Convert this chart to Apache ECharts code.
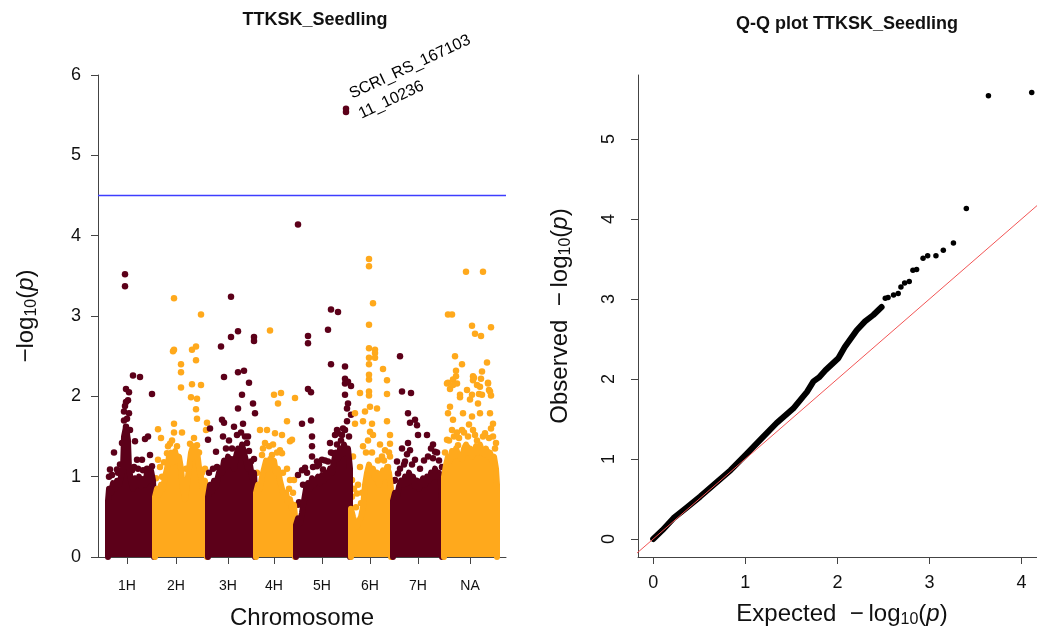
<!DOCTYPE html>
<html>
<head>
<meta charset="utf-8">
<title>TTKSK_Seedling</title>
<script src="https://cdn.jsdelivr.net/npm/echarts@6.0.0/dist/echarts.min.js"></script>
<style>
  html, body { margin: 0; padding: 0; background: #fff; }
  #container { width: 1037px; height: 634px; }
</style>
</head>
<body>
<div id="container"></div>
<script>
// chromosome layout on the cumulative position axis
const chromNames = ['1H', '2H', '3H', '4H', '5H', '6H', '7H', 'NA'];
const chromTicks = [29, 78, 130, 176, 224, 272, 320, 372];

// top edge of the dense block of markers, per chromosome [position, -log10(p)]
const core_1H = [[10,0],[10,0.7],[11,0.85],[13,0.8],[15,0.92],[17,0.85],[19,0.95],[21,0.9],[23,1.0],[25,1.1],[26,1.5],[28,1.62],[30,1.45],[31,1.1],[33,0.95],[35,0.85],[37,0.98],[39,0.9],[41,1.0],[43,0.88],[45,0.97],[47,0.9],[49,1.05],[51,0.95],[53,1.08],[55,0.95],[56,0.7],[56,0]];
const core_2H = [[57,0],[57,0.75],[59,0.85],[61,0.78],[63,0.9],[65,0.85],[67,1.0],[69,1.1],[71,1.25],[73,1.3],[75,1.18],[77,1.32],[79,1.2],[81,1.25],[83,1.1],[85,0.85],[87,0.72],[89,0.9],[91,1.1],[93,1.3],[95,1.38],[97,1.25],[99,1.32],[101,1.12],[103,1.0],[105,0.85],[107,0.95],[108,0.8],[109,0.6],[109,0]];
const core_3H = [[110,0],[110,0.75],[112,0.9],[114,0.82],[116,0.95],[118,0.88],[120,1.0],[122,1.1],[124,1.05],[126,1.2],[128,1.12],[130,1.25],[132,1.15],[134,1.22],[136,1.1],[138,1.25],[140,1.35],[142,1.28],[144,1.4],[146,1.3],[148,1.2],[150,1.1],[152,1.15],[154,1.0],[156,1.05],[157,0.8],[157,0]];
const core_4H = [[158,0],[158,0.8],[160,0.9],[162,0.85],[164,1.0],[166,1.1],[168,1.2],[170,1.1],[172,1.22],[174,1.15],[176,1.2],[178,1.05],[180,1.1],[182,0.95],[184,0.85],[186,0.75],[188,0.8],[190,0.68],[192,0.72],[194,0.6],[196,0.65],[197,0.5],[197,0]];
const core_5H = [[198,0],[198,0.4],[200,0.48],[202,0.42],[204,0.55],[206,0.7],[208,0.85],[210,0.92],[212,0.85],[214,0.98],[216,0.9],[218,0.95],[220,1.0],[222,0.92],[224,1.02],[226,0.95],[228,1.05],[230,1.0],[232,1.1],[234,1.05],[236,1.2],[238,1.3],[240,1.22],[242,1.35],[244,1.28],[246,1.4],[248,1.3],[250,1.35],[252,1.1],[252,0]];
const core_6H = [[253,0],[253,0.6],[255,0.5],[257,0.42],[259,0.38],[261,0.45],[263,0.5],[265,0.62],[267,0.9],[269,1.05],[271,1.15],[273,1.05],[275,1.1],[277,0.98],[279,1.05],[281,0.9],[283,1.0],[285,1.08],[287,1.0],[289,1.12],[291,1.05],[293,0.85],[293,0]];
const core_7H = [[295,0],[295,0.7],[297,0.8],[299,0.75],[301,0.88],[303,0.95],[305,0.9],[307,1.0],[309,0.92],[311,1.05],[313,0.95],[315,1.0],[317,0.88],[319,0.95],[321,0.85],[323,0.92],[325,0.98],[327,0.9],[329,1.0],[331,0.95],[333,1.05],[335,1.0],[337,1.1],[339,1.0],[341,1.05],[343,0.9],[344,0.7],[344,0]];
const core_NA = [[346,0],[346,1.0],[348,1.15],[350,1.25],[352,1.2],[354,1.32],[356,1.25],[358,1.35],[360,1.28],[362,1.3],[364,1.22],[366,1.35],[368,1.4],[370,1.3],[372,1.35],[374,1.25],[376,1.3],[378,1.38],[380,1.3],[382,1.4],[384,1.32],[386,1.28],[388,1.35],[390,1.25],[392,1.3],[394,1.2],[396,1.25],[398,1.1],[399,0.9],[399,0]];

// markers standing out above the dense block
const hits_1H = [[27,3.52],[27,3.37],[35,2.26],[42,2.24],[28,2.09],[31,2.05],[54,2.03],[28,1.93],[26,1.81],[31,1.79],[28,1.62],[32,1.58],[37,1.44],[47,1.47],[50,1.50],[16,1.30],[12,1.09],[19,1.09],[44,1.21],[52,1.27],[54,1.13],[49,1.10],[39,1.21],[24,1.42],[29,1.33],
    [11,1.0],[14,1.02],[20,1.05],[22,1.15],[34,1.08],[36,1.12],[40,1.1],[45,1.08],[26,1.7],[29,1.72],[27,1.88],[30,1.95]];
const hits_2H = [[76,3.22],[103,3.02],[76,2.58],[75,2.56],[94,2.58],[98,2.62],[98,2.45],[83,2.40],[83,2.30],[83,2.11],[94,2.15],[103,2.14],[93,1.99],[99,1.97],[60,1.59],[63,1.48],[76,1.66],[76,1.55],[84,1.55],[72,1.41],[69,1.29],[60,1.21],[62,1.12],[92,1.41],[99,1.39],[109,1.67],[108,1.58],[98,1.84],[99,1.72],
    [58,0.98],[64,1.0],[66,1.18],[70,1.38],[74,1.45],[79,1.38],[86,0.95],[88,1.1],[96,1.48],[101,1.3],[104,1.05],[107,1.1]];
const hits_3H = [[133,3.24],[140,2.81],[133,2.74],[156,2.74],[156,2.69],[123,2.62],[126,2.24],[140,2.30],[146,2.32],[151,2.17],[144,2.02],[112,1.60],[110,1.46],[124,1.71],[126,1.67],[125,1.50],[136,1.62],[140,1.85],[139,1.52],[145,1.66],[150,1.50],[149,1.42],[155,1.91],[157,1.79],[134,1.35],[153,1.19],[118,1.31],
    [111,1.05],[115,1.1],[119,1.12],[128,1.35],[131,1.45],[143,1.55],[147,1.5],[151,1.32],[156,1.22]];
const hits_4H = [[172,2.82],[176,2.02],[183,2.04],[197,1.98],[162,1.58],[164,1.27],[169,1.58],[174,1.27],[177,1.54],[182,1.33],[184,1.52],[189,1.69],[192,1.44],[180,1.91],[194,1.46],[189,1.10],[184,1.29],[192,0.96],[196,0.96],
    [159,1.05],[165,1.35],[167,1.42],[171,1.38],[175,1.4],[179,1.3],[185,1.05],[191,0.85],[195,0.8]];
const hits_5H = [[200,4.14],[248,5.54],[233,3.08],[240,3.05],[230,2.83],[210,2.75],[210,2.66],[233,2.40],[247,2.37],[247,2.22],[247,2.16],[250,2.18],[253,2.13],[247,2.02],[210,2.09],[213,2.05],[204,1.66],[213,1.70],[214,1.50],[214,1.38],[214,1.25],[207,1.11],[204,1.08],[200,1.02],[200,0.65],[224,1.21],[219,1.19],[230,1.19],[237,1.52],[240,1.54],[244,1.52],[247,1.58],[239,1.40],[242,1.31],[235,1.29],[249,1.85],[250,1.91],[249,1.69],[253,1.77],[232,1.42],[225,1.09],[219,1.13],
    [201,0.68],[205,0.9],[209,1.05],[215,1.12],[221,1.15],[227,1.2],[233,1.3],[239,1.58],[243,1.45],[245,1.6],[251,1.5]];
const hits_6H = [[271,3.71],[271,3.62],[275,3.16],[271,2.89],[271,2.60],[277,2.58],[277,2.54],[271,2.48],[277,2.48],[271,2.40],[285,2.34],[271,2.27],[271,2.21],[289,2.20],[262,2.04],[271,2.06],[271,2.01],[289,2.03],[257,1.79],[267,1.81],[272,1.87],[279,1.85],[257,1.66],[265,1.69],[272,1.56],[274,1.66],[275,1.52],[289,1.69],[292,1.52],[282,1.40],[265,1.38],[255,1.25],[262,1.12],[254,0.96],[259,0.79],[263,0.67],[287,1.33],[292,1.25],[290,1.12],[292,1.41],
    [254,0.75],[256,0.85],[258,0.62],[260,0.9],[264,0.8],[268,1.3],[270,1.45],[274,1.3],[280,1.2],[284,1.25],[286,1.2],[291,1.3]];
const hits_7H = [[302,2.50],[304,2.06],[313,2.04],[310,1.79],[317,1.71],[312,1.67],[319,1.64],[320,1.52],[329,1.52],[310,1.42],[304,1.35],[312,1.33],[317,1.21],[307,1.19],[335,1.40],[337,1.31],[335,1.23],[342,1.00],[344,1.12],[299,1.19],[300,1.04],[297,0.96],
    [296,0.95],[302,1.1],[306,1.15],[309,1.28],[314,1.15],[322,1.1],[326,1.2],[330,1.25],[333,1.35],[339,1.3],[341,1.2]];
const hits_NA = [[368,3.55],[385,3.55],[350,3.02],[354,3.02],[374,2.88],[393,2.86],[377,2.78],[383,2.75],[357,2.50],[364,2.40],[389,2.42],[384,2.31],[358,2.32],[358,2.25],[355,2.21],[350,2.17],[359,2.16],[352,2.09],[375,2.25],[376,2.23],[383,2.22],[390,2.17],[379,2.14],[391,2.08],[381,2.03],[374,2.02],[362,2.02],[393,2.01],[349,2.16],[355,2.14],[362,1.99],[369,2.08],[375,2.20],[382,2.12],[390,2.16],[392,2.06],[384,2.02],[380,1.91],[372,1.96],[352,1.87],[350,1.79],[355,1.71],[365,1.79],[374,1.75],[382,1.79],[392,1.79],[395,1.66],[349,1.46],[354,1.58],[364,1.58],[375,1.58],[387,1.54],[395,1.50],[369,1.37],[389,1.31],[360,1.39],
    [347,1.3],[351,1.45],[356,1.5],[359,1.55],[361,1.48],[366,1.55],[370,1.5],[371,1.65],[377,1.52],[379,1.45],[385,1.5],[391,1.48],[393,1.6],[397,1.35],[398,1.42]];

// the labelled top SNP
const topHit = [248, 5.58];
const topHitName = 'SCRI_RS_167103\n11_10236';
const threshold = 4.5;

// Q-Q plot: expected vs observed -log10(p)
const qqExpected = [0, 0.10, 0.22, 0.36, 0.51, 0.67, 0.84, 1.02, 1.18, 1.34, 1.52, 1.67, 1.74, 1.80, 1.87, 2.01, 2.08, 2.21, 2.30, 2.39, 2.48];
const qqObserved = [0, 0.11, 0.26, 0.39, 0.53, 0.69, 0.86, 1.07, 1.26, 1.45, 1.63, 1.84, 1.97, 2.02, 2.11, 2.26, 2.40, 2.61, 2.72, 2.80, 2.90];
const qqTailExpected = [2.52, 2.55, 2.61, 2.66, 2.69, 2.73, 2.78, 2.82, 2.86, 2.93, 2.98, 3.07, 3.15, 3.26, 3.40, 3.64, 4.11];
const qqTailObserved = [3.01, 3.02, 3.05, 3.07, 3.15, 3.20, 3.22, 3.36, 3.37, 3.51, 3.54, 3.54, 3.61, 3.70, 4.13, 5.54, 5.58];
const qqTicks = [0, 1, 2, 3, 4];
const qqYTicks = [0, 1, 2, 3, 4, 5];

var dom = document.getElementById('container');
var myChart = echarts.init(dom, null, { renderer: 'canvas' });

const FONT = '"Liberation Sans", Arial, Helvetica, sans-serif';
const INK = '#111';
const AXIS = '#444';
const DARK = '#5c0019';
const ORANGE = '#ffa91c';
const BLUE = '#3d3dff';

const coreList = [core_1H, core_2H, core_3H, core_4H, core_5H, core_6H, core_7H, core_NA];
const hitsList = [hits_1H, hits_2H, hits_3H, hits_4H, hits_5H, hits_6H, hits_7H, hits_NA];

const nameRich = {
    t: { fontSize: 24, lineHeight: 28, color: INK, fontFamily: FONT },
    s: { fontSize: 16, color: INK, fontFamily: FONT, verticalAlign: 'bottom' },
    i: { fontSize: 24, lineHeight: 28, color: INK, fontFamily: FONT, fontStyle: 'italic' }
};

function axisBase() {
    return {
        axisLine: { show: true, onZero: false, lineStyle: { color: AXIS, width: 1 } },
        axisTick: { show: true, length: 7, lineStyle: { color: AXIS } },
        splitLine: { show: false }
    };
}

let series = [];

chromNames.forEach((name, i) => {
    const color = i % 2 === 0 ? DARK : ORANGE;
    series.push({
        type: 'line',
        xAxisIndex: 0,
        yAxisIndex: 0,
        data: coreList[i],
        showSymbol: false,
        silent: true,
        lineStyle: { color: color, width: 6, join: 'round', cap: 'round' },
        areaStyle: { color: color, opacity: 1 }
    });
    series.push({
        type: 'scatter',
        xAxisIndex: 0,
        yAxisIndex: 0,
        data: hitsList[i],
        symbolSize: 6.5,
        itemStyle: { color: color, opacity: 1 }
    });
});

// top SNP with its name
series.push({
    type: 'scatter',
    xAxisIndex: 0,
    yAxisIndex: 0,
    data: [{
        value: topHit,
        label: {
            show: true,
            formatter: topHitName,
            position: 'right',
            distance: 2,
            offset: [5, -2],
            rotate: 25,
            align: 'left',
            fontSize: 16,
            lineHeight: 22,
            color: '#000',
            fontFamily: FONT
        }
    }],
    symbolSize: 6.5,
    itemStyle: { color: DARK, opacity: 1 },
    z: 5
});

// significance threshold
series.push({
    type: 'line',
    xAxisIndex: 0,
    yAxisIndex: 0,
    data: [[0, threshold], [408, threshold]],
    showSymbol: false,
    silent: true,
    color: BLUE,
    itemStyle: { color: BLUE },
    lineStyle: { color: BLUE, width: 1.6, opacity: 1 },
    z: 6
});

// Q-Q plot
series.push({
    type: 'line',
    xAxisIndex: 1,
    yAxisIndex: 1,
    data: qqExpected.map((x, i) => [x, qqObserved[i]]),
    showSymbol: false,
    silent: true,
    lineStyle: { color: '#000', width: 6, join: 'round', cap: 'round' }
});
series.push({
    type: 'scatter',
    xAxisIndex: 1,
    yAxisIndex: 1,
    data: qqTailExpected.map((x, i) => [x, qqTailObserved[i]]),
    symbolSize: 5.5,
    itemStyle: { color: '#000', opacity: 1 }
});
series.push({
    type: 'line',
    xAxisIndex: 1,
    yAxisIndex: 1,
    data: [[-1, -1], [6, 6]],
    showSymbol: false,
    silent: true,
    clip: true,
    lineStyle: { color: '#f25555', width: 1 },
    z: 5
});

option = {
    animation: false,
    backgroundColor: '#fff',
    textStyle: { fontFamily: FONT },
    title: [
        {
            text: 'TTKSK_Seedling',
            left: 310,
            top: 6,
            textAlign: 'center',
            textStyle: { fontSize: 18, fontWeight: 'bold', color: INK, fontFamily: FONT }
        },
        {
            text: 'Q-Q plot TTKSK_Seedling',
            left: 842,
            top: 10,
            textAlign: 'center',
            textStyle: { fontSize: 18, fontWeight: 'bold', color: INK, fontFamily: FONT }
        }
    ],
    grid: [
        { left: 98, top: 75, width: 408, height: 482, outerBoundsMode: 'none' },
        { left: 638, top: 75, width: 408, height: 482, outerBoundsMode: 'none' }
    ],
    xAxis: [
        Object.assign(axisBase(), {
            type: 'value',
            gridIndex: 0,
            min: 0,
            max: 408,
            name: 'Chromosome',
            nameLocation: 'middle',
            nameGap: 49,
            nameTextStyle: { fontSize: 24, color: INK, fontFamily: FONT },
            axisTick: { show: true, length: 7, lineStyle: { color: AXIS }, customValues: chromTicks },
            axisLabel: {
                customValues: chromTicks,
                formatter: (v) => chromNames[chromTicks.indexOf(v)],
                fontSize: 14,
                margin: 22,
                color: INK,
                fontFamily: FONT
            }
        }),
        Object.assign(axisBase(), {
            type: 'value',
            gridIndex: 1,
            min: -0.165,
            max: 4.265,
            name: '{t|Expected  \u2212\u2009log}{s|10}{t|(}{i|p}{t|)}',
            nameLocation: 'middle',
            nameGap: 43,
            nameTextStyle: { fontSize: 24, color: INK, fontFamily: FONT, rich: nameRich },
            axisTick: { show: true, length: 7, lineStyle: { color: AXIS }, customValues: qqTicks },
            axisLabel: { customValues: qqTicks, fontSize: 18, margin: 17, color: INK, fontFamily: FONT }
        })
    ],
    yAxis: [
        Object.assign(axisBase(), {
            type: 'value',
            gridIndex: 0,
            min: 0,
            max: 6,
            interval: 1,
            name: '{t|\u2212log}{s|10}{t|(}{i|p}{t|)}',
            nameLocation: 'middle',
            nameGap: 58,
            nameTextStyle: { fontSize: 24, color: INK, fontFamily: FONT, rich: nameRich },
            axisLabel: { fontSize: 18, margin: 17, color: INK, fontFamily: FONT }
        }),
        Object.assign(axisBase(), {
            type: 'value',
            gridIndex: 1,
            min: -0.225,
            max: 5.8,
            name: '{t|Observed  \u2212\u2009log}{s|10}{t|(}{i|p}{t|)}',
            nameLocation: 'middle',
            nameGap: 64,
            nameTextStyle: { fontSize: 24, color: INK, fontFamily: FONT, rich: nameRich },
            axisTick: { show: true, length: 7, lineStyle: { color: AXIS }, customValues: qqYTicks },
            axisLabel: { customValues: qqYTicks, rotate: 90, fontSize: 18, margin: 20, color: INK, fontFamily: FONT }
        })
    ],
    series: series
};

if (option && typeof option === 'object') {
    myChart.setOption(option);
}

window.addEventListener('resize', myChart.resize);
</script>
</body>
</html>
